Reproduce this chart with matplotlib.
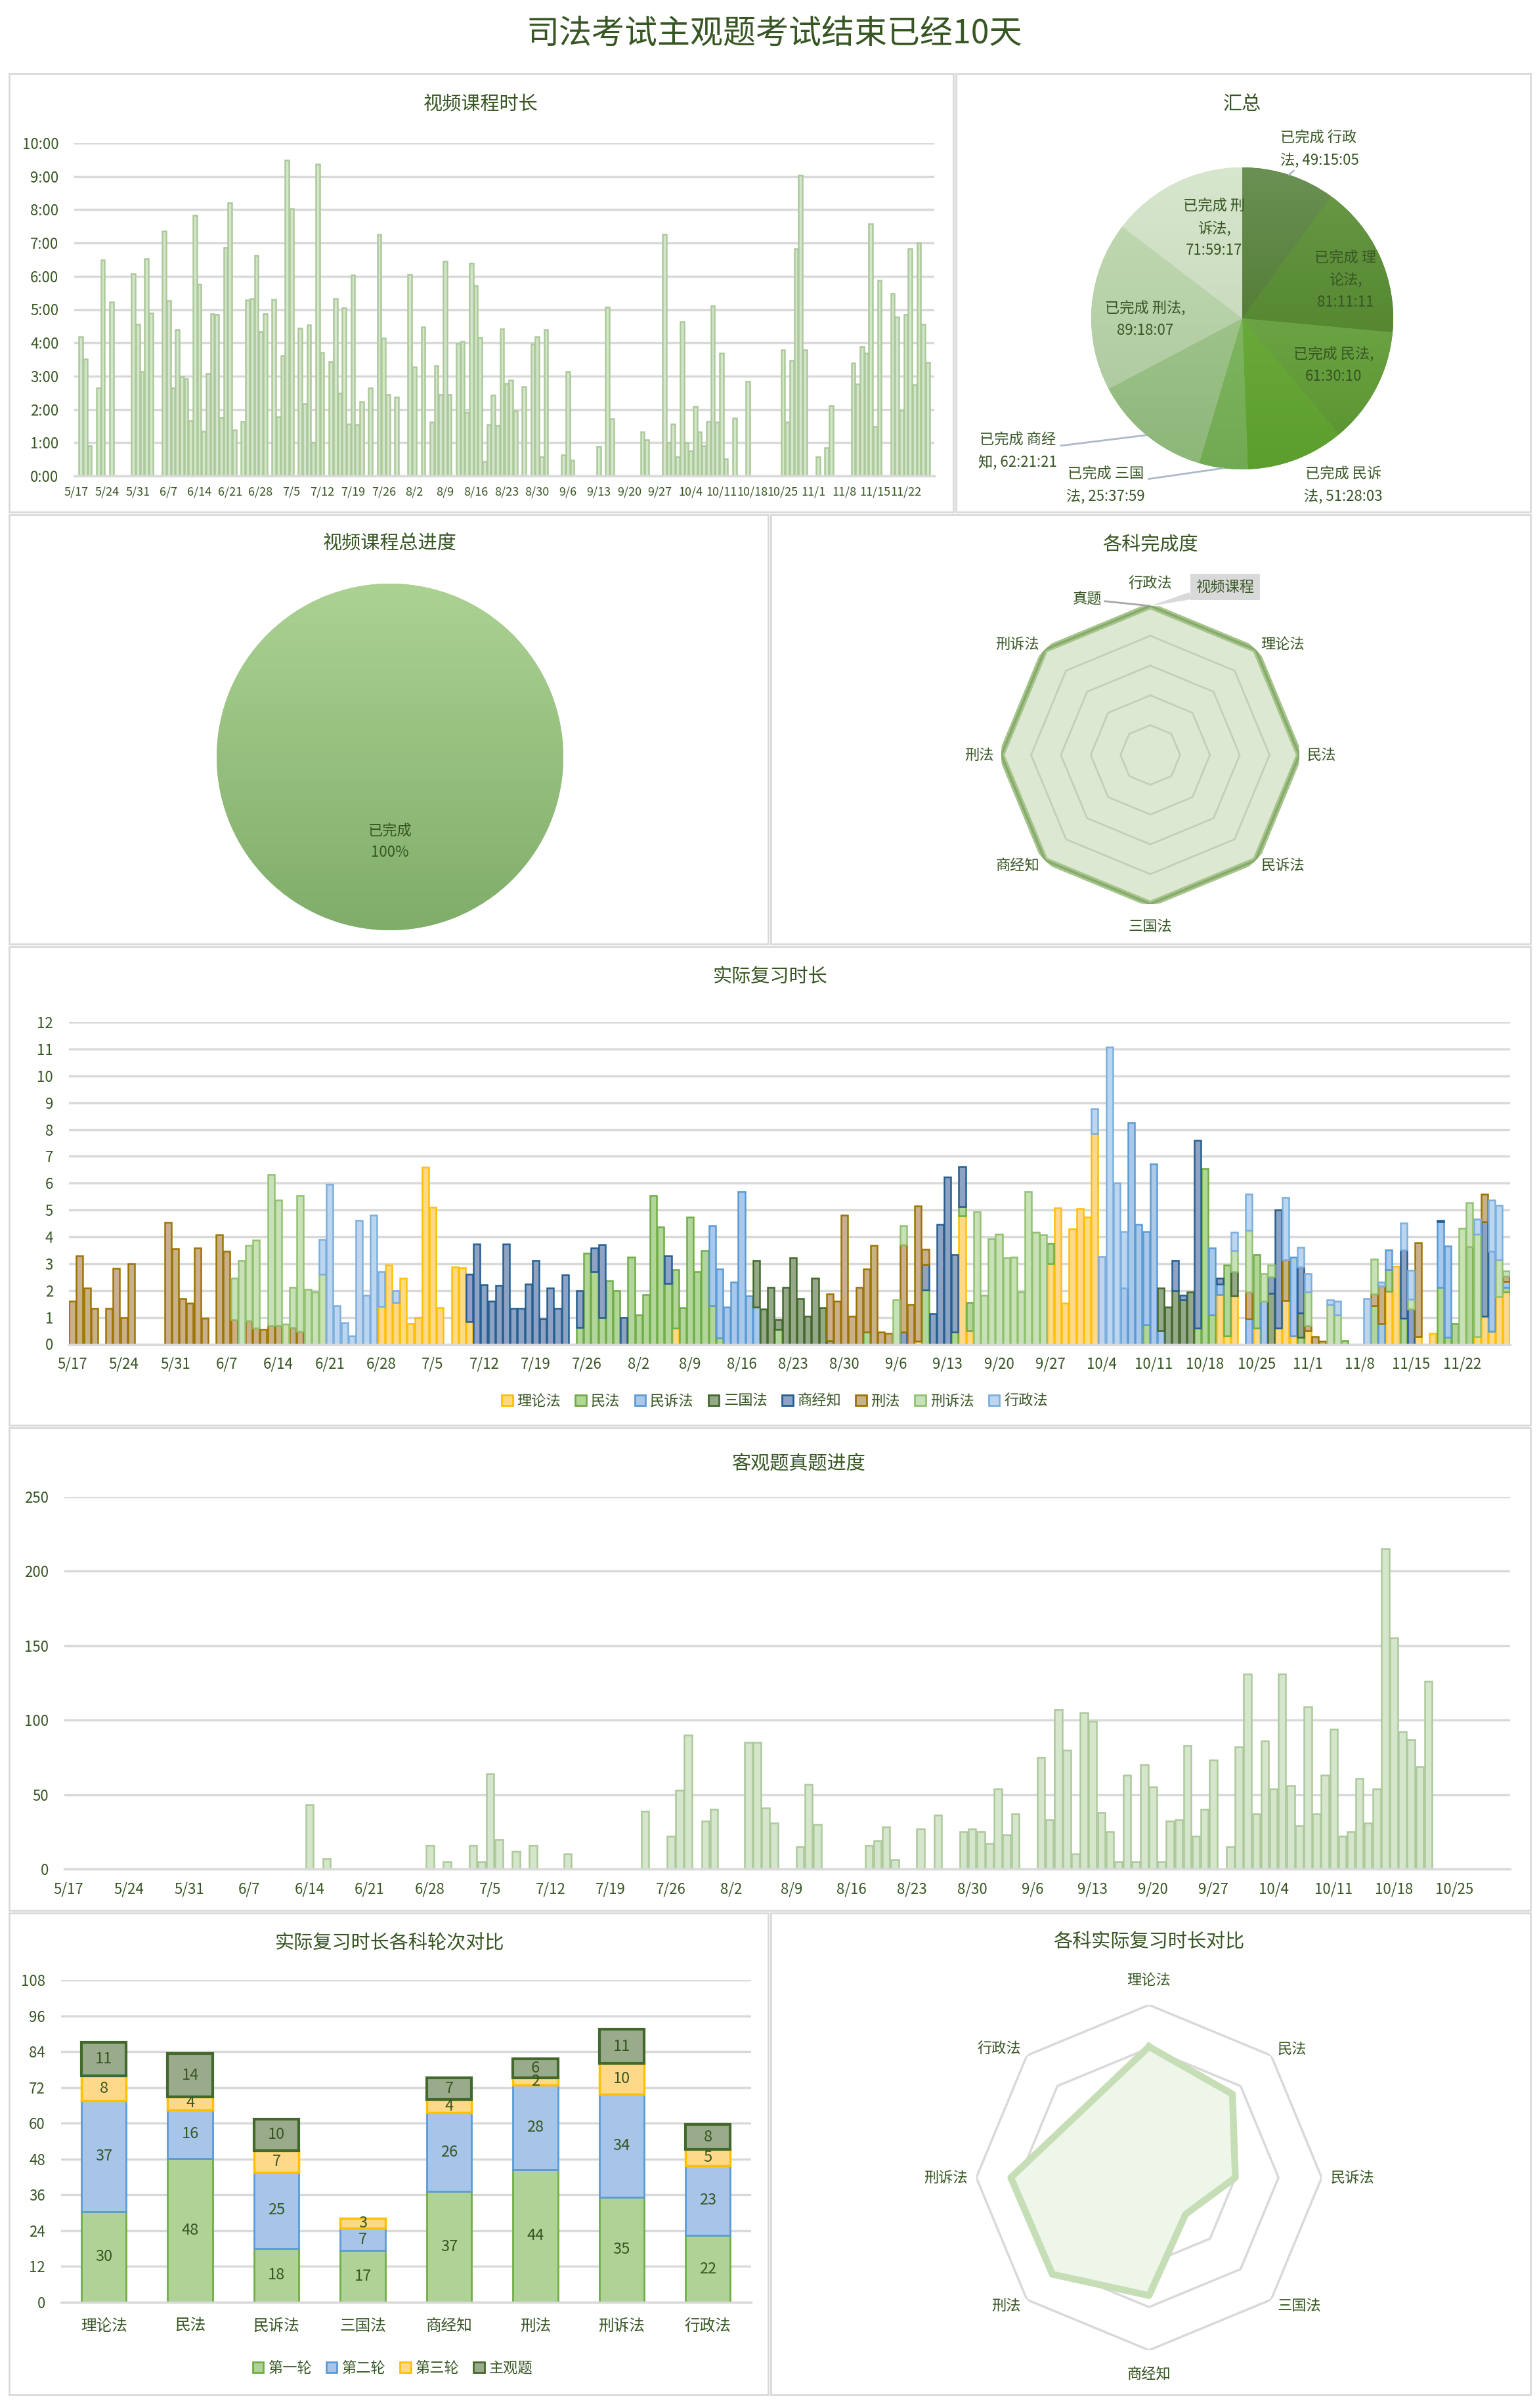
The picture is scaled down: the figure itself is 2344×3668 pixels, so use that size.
import numpy as np
import pandas as pd
import matplotlib
matplotlib.use('Agg')
import matplotlib.pyplot as plt
from matplotlib.patches import Rectangle, Patch
from matplotlib.colors import LinearSegmentedColormap

plt.rcParams['font.family'] = ['Noto Sans CJK SC', 'DejaVu Sans']

W, H = 2344, 3668
TEXT = '#375623'
GRID = '#d9d9d9'

# ---------------- data ----------------
START = '2021-05-17'
N_DAYS = 196          # 5/17 .. 11/28
N_DAYS_EXAM = 168     # 5/17 .. 10/31

# 视频课程时长, hours per day (key = days after 5/17)
video_hours = {
    1: 4.18, 2: 3.51, 3: 0.9, 5: 2.64, 6: 6.49, 8: 5.22, 13: 6.08, 14: 4.56, 15: 3.13,
    16: 6.53, 17: 4.9, 20: 7.36, 21: 5.27, 22: 2.64, 23: 4.39, 24: 2.97, 25: 2.92, 26: 1.65,
    27: 7.84, 28: 5.76, 29: 1.34, 30: 3.08, 31: 4.88, 32: 4.85, 33: 1.75, 34: 6.87, 35: 8.2,
    36: 1.38, 38: 1.64, 39: 5.29, 40: 5.33, 41: 6.63, 42: 4.33, 43: 4.88, 45: 5.3, 46: 1.78,
    47: 3.6, 48: 9.48, 49: 8.03, 51: 4.43, 52: 2.17, 53: 4.54, 54: 1.01, 55: 9.36, 56: 3.71,
    58: 3.43, 59: 5.33, 60: 2.48, 61: 5.05, 62: 1.55, 63: 6.04, 64: 1.53, 65: 2.23, 67: 2.64,
    69: 7.26, 70: 4.14, 71: 2.44, 73: 2.36, 76: 6.05, 77: 3.27, 79: 4.48, 81: 1.61, 82: 3.31,
    83: 2.44, 84: 6.44, 85: 2.44, 87: 3.98, 88: 4.04, 89: 1.91, 90: 6.4, 91: 5.72, 92: 4.16,
    93: 0.44, 94: 1.54, 95: 2.42, 96: 1.52, 97: 4.42, 98: 2.79, 99: 2.87, 100: 1.95, 102: 2.69,
    104: 3.96, 105: 4.18, 106: 0.57, 107: 4.39, 111: 0.63, 112: 3.13, 113: 0.48, 119: 0.89,
    121: 5.07, 122: 1.72, 129: 1.32, 130: 1.08, 134: 7.26, 135: 1.01, 136: 1.55, 137: 0.58,
    138: 4.63, 139: 1.01, 140: 0.74, 141: 2.1, 142: 1.32, 143: 0.9, 144: 1.64, 145: 5.1,
    146: 1.61, 147: 3.68, 148: 0.51, 150: 1.74, 153: 2.85, 161: 3.78, 162: 1.61, 163: 3.47,
    164: 6.82, 165: 9.04, 166: 3.78, 169: 0.58, 171: 0.84, 172: 2.12, 177: 3.39, 178: 2.77,
    179: 3.88, 180: 3.68, 181: 7.58, 182: 1.47, 183: 5.87, 186: 5.48, 187: 4.78, 188: 1.98,
    189: 4.85, 190: 6.83, 191: 2.75, 192: 7.0, 193: 4.55, 194: 3.41,
}

# 汇总
summary_subjects = ['行政法', '理论法', '民法', '民诉法', '三国法', '商经知', '刑法', '刑诉法']
summary_times = ['49:15:05', '81:11:11', '61:30:10', '51:28:03', '25:37:59', '62:21:21', '89:18:07', '71:59:17']

# 视频课程总进度
progress_done = 100

# 各科完成度
radar_subjects = ['行政法', '理论法', '民法', '民诉法', '三国法', '商经知', '刑法', '刑诉法']
radar_video = [1.0, 1.0, 1.0, 1.0, 1.0, 1.0, 1.0, 1.0]
radar_exam = [1.0, 1.0, 1.0, 1.0, 1.0, 1.0, 1.0, 1.0]

# 实际复习时长 (hours per day per subject)
review_subjects = ['理论法', '民法', '民诉法', '三国法', '商经知', '刑法', '刑诉法', '行政法']
review_ll = {42: 1.4, 43: 2.96, 44: 1.56, 45: 2.45, 46: 0.76, 47: 0.99, 48: 6.59, 49: 5.1, 50: 1.37,
             52: 2.88, 53: 2.85, 54: 0.85, 82: 0.6, 115: 0.1, 121: 4.79, 122: 0.5, 133: 3.0, 134: 5.07,
             135: 1.54, 136: 4.3, 137: 5.04, 138: 4.73, 139: 7.83, 156: 1.85, 157: 0.3, 158: 1.8,
             161: 0.6, 164: 0.6, 165: 1.62, 166: 0.3, 168: 0.5, 179: 1.96, 180: 2.9, 183: 0.28,
             185: 0.4, 191: 0.28, 192: 1.05, 193: 0.47, 194: 1.77, 195: 1.94}
review_mf = {69: 0.63, 70: 3.38, 71: 2.7, 72: 1.0, 73: 2.36, 74: 1.99, 76: 3.25, 77: 1.08, 78: 1.85,
             79: 5.53, 80: 4.36, 81: 2.26, 82: 2.17, 83: 1.37, 84: 4.73, 85: 2.7, 86: 3.48, 87: 1.42,
             88: 0.23, 96: 0.55, 108: 0.45, 116: 2.02, 120: 0.45, 121: 0.34, 122: 1.05, 133: 0.76,
             146: 0.72, 153: 0.6, 154: 6.55, 155: 1.08, 157: 2.66, 161: 2.73, 167: 0.25, 173: 0.14,
             177: 1.42, 179: 0.81, 181: 0.97, 186: 2.11, 187: 0.25, 188: 0.76, 190: 3.64, 195: 0.17}
review_ms = {87: 2.99, 88: 2.56, 89: 1.39, 90: 2.31, 91: 5.7, 92: 1.8, 93: 1.39, 143: 2.1, 144: 8.26,
             145: 4.47, 146: 3.47, 147: 6.72, 148: 0.5, 155: 2.51, 156: 0.4, 160: 0.95, 162: 1.6,
             166: 2.93, 178: 0.78, 179: 0.74, 186: 2.45, 187: 3.4, 193: 3.0, 195: 0.23}
review_sg = {93: 1.74, 94: 1.31, 95: 2.11, 96: 0.36, 97: 2.11, 98: 3.21, 99: 1.71, 100: 1.03, 101: 2.45,
             102: 1.37, 103: 0.14, 148: 1.6, 149: 1.39, 150: 2.0, 151: 1.65, 152: 1.94, 158: 0.9,
             163: 1.9, 167: 0.9}
review_sj = {54: 1.75, 55: 3.73, 56: 2.22, 57: 1.6, 58: 2.19, 59: 3.73, 60: 1.33, 61: 1.33, 62: 2.24,
             63: 3.11, 64: 0.95, 65: 2.09, 66: 1.33, 67: 2.59, 69: 1.36, 71: 0.89, 72: 2.7, 75: 0.99,
             81: 1.02, 113: 0.45, 116: 0.95, 117: 1.14, 118: 4.47, 119: 6.23, 120: 2.88, 121: 1.48,
             150: 1.11, 151: 0.17, 153: 7.0, 156: 0.22, 163: 0.6, 164: 4.4, 167: 1.72, 181: 2.54,
             182: 1.31, 186: 0.05, 192: 3.51}
review_xf = {0: 1.6, 1: 3.28, 2: 2.09, 3: 1.34, 5: 1.33, 6: 2.83, 7: 1.0, 8: 2.99, 13: 4.54, 14: 3.56,
             15: 1.7, 16: 1.54, 17: 3.59, 18: 0.97, 20: 4.08, 21: 3.46, 22: 0.91, 24: 0.87, 25: 0.6,
             26: 0.55, 27: 0.7, 28: 0.7, 30: 0.62, 31: 0.47, 103: 1.74, 104: 1.6, 105: 4.81, 106: 1.05,
             107: 2.11, 108: 2.34, 109: 3.67, 110: 0.46, 111: 0.4, 113: 3.25, 114: 1.48, 115: 5.06,
             116: 0.57, 160: 1.0, 165: 1.52, 168: 0.2, 169: 0.28, 170: 0.1, 177: 0.46, 178: 1.39,
             183: 3.5, 192: 1.03, 195: 0.19}
review_xs = {22: 1.56, 23: 3.13, 24: 2.81, 25: 3.27, 27: 5.62, 28: 4.68, 29: 0.74, 30: 1.49, 31: 5.06,
             32: 2.05, 33: 1.94, 34: 2.6, 112: 1.65, 113: 0.71, 123: 4.92, 124: 1.82, 125: 3.93,
             126: 4.1, 127: 3.21, 128: 3.23, 129: 1.94, 130: 5.7, 131: 4.16, 132: 4.07, 158: 0.78,
             160: 2.3, 162: 1.02, 163: 0.44, 168: 1.25, 171: 1.48, 172: 1.08, 177: 1.29, 182: 0.36,
             189: 4.31, 190: 1.62, 191: 3.82, 194: 1.37, 195: 0.2}
review_xz = {34: 1.3, 35: 5.95, 36: 1.42, 37: 0.8, 38: 0.31, 39: 4.62, 40: 1.82, 41: 4.81, 42: 1.3,
             44: 0.43, 139: 0.94, 140: 3.27, 141: 11.08, 142: 6.0, 143: 2.09, 158: 0.68, 160: 1.35,
             165: 2.34, 167: 0.75, 168: 0.67, 171: 0.17, 172: 0.52, 176: 1.71, 178: 0.14, 181: 1.01,
             182: 1.08, 191: 0.57, 193: 1.9, 194: 2.03}

# 客观题真题进度 (questions per day)
exam_counts = {
    28: 43, 30: 7, 42: 16, 44: 5, 47: 16, 48: 5, 49: 64, 50: 20, 52: 12, 54: 16, 58: 10,
    67: 39, 70: 22, 71: 53, 72: 90, 74: 32, 75: 40, 79: 85, 80: 85, 81: 41, 82: 31, 85: 15,
    86: 57, 87: 30, 93: 16, 94: 19, 95: 28, 96: 6, 99: 27, 101: 36, 104: 25, 105: 27, 106: 25,
    107: 17, 108: 54, 109: 23, 110: 37, 113: 75, 114: 33, 115: 107, 116: 80, 117: 10, 118: 105,
    119: 99, 120: 38, 121: 25, 122: 5, 123: 63, 124: 5, 125: 70, 126: 55, 127: 5, 128: 32,
    129: 33, 130: 83, 131: 22, 132: 40, 133: 73, 135: 15, 136: 82, 137: 131, 138: 37, 139: 86,
    140: 54, 141: 131, 142: 56, 143: 29, 144: 109, 145: 37, 146: 63, 147: 94, 148: 22, 149: 25,
    150: 61, 151: 31, 152: 54, 153: 215, 154: 155, 155: 92, 156: 87, 157: 69, 158: 126,
}

# 实际复习时长各科轮次对比
round_subjects = ['理论法', '民法', '民诉法', '三国法', '商经知', '刑法', '刑诉法', '行政法']
round_names = ['第一轮', '第二轮', '第三轮', '主观题']
round_1 = [30.4, 48.2, 18.1, 17.4, 37.2, 44.5, 35.3, 22.4]
round_2 = [37.2, 16.3, 25.4, 7.4, 26.3, 28.4, 34.4, 23.4]
round_3 = [8.2, 4.4, 7.4, 3.4, 4.4, 2.4, 10.3, 5.4]
round_sub = [11.4, 14.4, 10.4, 0.0, 7.4, 6.4, 11.4, 8.4]

# 各科实际复习时长对比
compare_subjects = ['理论法', '民法', '民诉法', '三国法', '商经知', '刑法', '刑诉法', '行政法']
compare_hours = [91, 82, 60, 36, 82, 95, 96, 66]


# ---------------- helpers ----------------
def box(x0, y0, x1, y1):
    return [x0 / W, 1 - y1 / H, (x1 - x0) / W, (y1 - y0) / H]


def fxy(x, y):
    return x / W, 1 - y / H


def hms_hours(s):
    h, m, sec = (int(p) for p in s.split(':'))
    return h + m / 60 + sec / 3600


def style_bar_axes(ax, ylabel_pad, xlabel_pad, xsize, ysize):
    ax.set_facecolor('none')
    for s in ['top', 'right', 'left']:
        ax.spines[s].set_visible(False)
    ax.spines['bottom'].set_color(GRID)
    ax.spines['bottom'].set_linewidth(2.5)
    ax.grid(axis='y', color=GRID, lw=2.5)
    ax.set_axisbelow(True)
    ax.tick_params(axis='both', length=0, colors=TEXT)
    ax.tick_params(axis='y', pad=ylabel_pad, labelsize=ysize)
    ax.tick_params(axis='x', pad=xlabel_pad, labelsize=xsize)


def gradient_fill(ax, patch, c_top, c_bot, extent):
    cmap = LinearSegmentedColormap.from_list('g', [c_top, c_bot])
    grad = np.linspace(0, 1, 256)[:, None]
    im = ax.imshow(grad, cmap=cmap, extent=extent, aspect='auto', origin='upper', zorder=2)
    im.set_clip_path(patch)


def polar_frame(ax):
    ax.set_theta_offset(np.pi / 2)
    ax.set_theta_direction(-1)
    ax.axis('off')


fig = plt.figure(figsize=(W / 100, H / 100), dpi=100)
fig.patch.set_facecolor('white')

# panel borders
panels = [(14, 112, 1452, 780), (1456, 112, 2331, 780), (14, 784, 1170, 1438), (1174, 784, 2331, 1438),
          (14, 1442, 2331, 2171), (14, 2175, 2331, 2910), (14, 2914, 1170, 3648), (1174, 2914, 2331, 3648)]
for x0, y0, x1, y1 in panels:
    fig.add_artist(Rectangle(fxy(x0, y1), (x1 - x0) / W, (y1 - y0) / H, transform=fig.transFigure,
                             fill=False, ec=GRID, lw=2))

fig.text(*fxy(1179, 52), '司法考试主观题考试结束已经10天', ha='center', va='center', fontsize=36, color=TEXT)

dates = pd.date_range(START, periods=N_DAYS)
week_labels = [f'{d.month}/{d.day}' for d in dates[::7]]
days = np.arange(N_DAYS)

# ---------------- 1. 视频课程时长 ----------------
fig.text(*fxy(732, 159), '视频课程时长', ha='center', va='center', fontsize=21, color=TEXT)
ax1 = fig.add_axes(box(113, 218, 1423, 725))
vx = np.array(sorted(video_hours))
ax1.bar(vx, [video_hours[k] for k in vx], width=0.85, color='#d6e6cc', edgecolor='#acc99b', lw=1.8)
ax1.set_xlim(-0.5, N_DAYS - 0.5)
ax1.set_ylim(0, 10)
ax1.set_yticks(range(11))
ax1.set_yticklabels([f'{h}:00' for h in range(11)])
ax1.set_xticks(days[::7])
ax1.set_xticklabels(week_labels)
style_bar_axes(ax1, 17, 11, 13, 16)

# ---------------- 2. 汇总 pie ----------------
fig.text(*fxy(1892, 159), '汇总', ha='center', va='center', fontsize=21, color=TEXT)
cx2, cy2, r2 = 1892, 485, 230
ax2 = fig.add_axes(box(cx2 - r2, cy2 - r2, cx2 + r2, cy2 + r2))
sum_hours = [hms_hours(t) for t in summary_times]
slice_colors = [('#6b9054', '#3f6c1c'), ('#6a9b48', '#44781e'), ('#80b25d', '#58932c'),
                ('#77b546', '#5c9e2e'), ('#8fc070', '#70aa52'), ('#aed09a', '#8db679'),
                ('#c5dcb6', '#a8c599'), ('#d7e7ce', '#bdd0b0')]
wedges, _ = ax2.pie(sum_hours, startangle=90, counterclock=False,
                    colors=[c[1] for c in slice_colors], wedgeprops=dict(lw=0))
for w, (ct, cb) in zip(wedges, slice_colors):
    gradient_fill(ax2, w, ct, cb, (-1, 1, -1, 1))
ax2.set_xlim(-1, 1)
ax2.set_ylim(-1, 1)
ax2.axis('off')

label_breaks = [2, 1, None, 2, 2, 2, None, 1]
label_pos = [(1950, 227), (2049, 427), (2031, 557), (2046, 739), (1684, 739), (1550, 687), (1744, 487), (1849, 348)]
label_ha = ['left', 'center', 'center', 'center', 'center', 'center', 'center', 'center']
leader = [True, False, False, False, True, True, False, False]
total = sum(sum_hours)
cum = 0
for i, (name, t) in enumerate(zip(summary_subjects, summary_times)):
    k = label_breaks[i]
    if k is None:
        txt = f'已完成 {name},\n{t}'
    elif k == 1:
        txt = f'已完成 {name[:k]}\n{name[k:]},\n{t}'
    else:
        txt = f'已完成 {name[:k]}\n{name[k:]}, {t}'
    mid = 2 * np.pi * (cum + sum_hours[i] / 2) / total
    cum += sum_hours[i]
    px, py = label_pos[i]
    tx, ty = (px - cx2) / r2, (cy2 - py) / r2
    if leader[i]:
        ax2.annotate(txt, xy=(np.sin(mid), np.cos(mid)), xytext=(tx, ty), ha=label_ha[i], va='center',
                     fontsize=16, color=TEXT, linespacing=1.6, zorder=5, annotation_clip=False,
                     arrowprops=dict(arrowstyle='-', color='#adb9ca', lw=2, shrinkA=2, shrinkB=0))
    else:
        ax2.text(tx, ty, txt, ha=label_ha[i], va='center', fontsize=16, color=TEXT,
                 linespacing=1.6, zorder=5, multialignment='center')

# ---------------- 3. 视频课程总进度 ----------------
fig.text(*fxy(594, 828), '视频课程总进度', ha='center', va='center', fontsize=21, color=TEXT)
cx3, cy3, r3 = 594, 1153, 264
ax3 = fig.add_axes(box(cx3 - r3, cy3 - r3, cx3 + r3, cy3 + r3))
w3, _ = ax3.pie([progress_done], startangle=90, colors=['#94bf7c'], wedgeprops=dict(lw=0))
gradient_fill(ax3, w3[0], '#acd293', '#80ad6a', (-1, 1, -1, 1))
ax3.set_xlim(-1, 1)
ax3.set_ylim(-1, 1)
ax3.axis('off')
ax3.text(0, -0.49, f'已完成\n{progress_done}%', ha='center', va='center', fontsize=16,
         color=TEXT, linespacing=1.5, zorder=5)

# ---------------- 4. 各科完成度 radar ----------------
fig.text(*fxy(1752, 830), '各科完成度', ha='center', va='center', fontsize=21, color=TEXT)
cx4, cy4, r4 = 1752, 1150, 227
ax4 = fig.add_axes(box(cx4 - r4, cy4 - r4, cx4 + r4, cy4 + r4), projection='polar')
polar_frame(ax4)
ax4.set_ylim(0, 1)
th = np.linspace(0, 2 * np.pi, len(radar_subjects), endpoint=False)
thc = np.append(th, th[0])
ax4.fill(thc, np.append(radar_video, radar_video[0]), color='#dde8d3', zorder=1)
for r in [0.2, 0.4, 0.6, 0.8]:
    ax4.plot(thc, [r] * len(thc), color='#c3cfb9', lw=2, zorder=2)
ax4.plot(thc, np.append(radar_video, radar_video[0]), color='#a6c48d', lw=7, zorder=3)
ax4.plot(thc, np.append(radar_exam, radar_exam[0]), color='#86aa68', lw=2.5, zorder=4)
for t, name in zip(th, radar_subjects):
    s, c = np.sin(t), np.cos(t)
    if abs(s) < 0.01:
        ax4.text(t, 1.15, name, ha='center', va='center', fontsize=16, color=TEXT)
    else:
        ax4.text(t, 1.05, name, ha='left' if s > 0 else 'right', va='center', fontsize=16, color=TEXT)
ax4.annotate('真题', xy=(0, 1.0), xytext=(1656, H - 913), textcoords='figure pixels', ha='center',
             va='center', fontsize=16, color=TEXT, annotation_clip=False,
             arrowprops=dict(arrowstyle='-', color='#a6a6a6', lw=2, shrinkA=1, shrinkB=0))
ax4.annotate('视频课程', xy=(0, 1.0), xytext=(1866, H - 894), textcoords='figure pixels', ha='center',
             va='center', fontsize=16, color=TEXT, annotation_clip=False,
             bbox=dict(boxstyle='square,pad=0.4', fc='#d9d9d9', ec='none'),
             arrowprops=dict(arrowstyle='wedge,tail_width=0.5', fc='#d9d9d9', ec='none', shrinkA=0, shrinkB=0))

# ---------------- 5. 实际复习时长 ----------------
fig.text(*fxy(1173, 1488), '实际复习时长', ha='center', va='center', fontsize=21, color=TEXT)
ax5 = fig.add_axes(box(104.6, 1557, 2300, 2047.5))
review_data = [review_ll, review_mf, review_ms, review_sg, review_sj, review_xf, review_xs, review_xz]
review_fill = ['#ffd98a', '#b2d69a', '#a9c8ea', '#95a888', '#8ea3c4', '#c8b08b', '#c8e1b8', '#bcd6ef']
review_edge = ['#ffc000', '#70ad47', '#5b9bd5', '#43682b', '#255e91', '#9e7400', '#92c270', '#7cafdd']
bottom = np.zeros(N_DAYS)
for data, fc, ec in zip(review_data, review_fill, review_edge):
    v = np.array([data.get(i, 0.0) for i in days])
    m = v > 0
    ax5.bar(days[m], v[m], width=0.9, bottom=bottom[m], color=fc, edgecolor=ec, lw=1.8)
    bottom += v
ax5.set_xlim(-0.5, N_DAYS - 0.5)
ax5.set_ylim(0, 12)
ax5.set_yticks(range(13))
ax5.set_xticks(days[::7])
ax5.set_xticklabels(week_labels)
style_bar_axes(ax5, 17, 14, 16, 16)
handles = [Patch(facecolor=fc, edgecolor=ec, lw=2) for fc, ec in zip(review_fill, review_edge)]
fig.legend(handles, review_subjects, loc='center', bbox_to_anchor=fxy(1180, 2134), ncol=8,
           frameon=False, fontsize=16, labelcolor=TEXT, handlelength=0.75, handleheight=0.75,
           handletextpad=0.3, columnspacing=1.0)

# ---------------- 6. 客观题真题进度 ----------------
fig.text(*fxy(1217, 2229), '客观题真题进度', ha='center', va='center', fontsize=21, color=TEXT)
ax6 = fig.add_axes(box(97.8, 2280, 2300, 2847))
ex = np.array(sorted(exam_counts))
ax6.bar(ex, [exam_counts[k] for k in ex], width=0.88, color='#d6e6cc', edgecolor='#acc99b', lw=1.8)
ax6.set_xlim(-0.5, N_DAYS_EXAM - 0.5)
ax6.set_ylim(0, 250)
ax6.set_yticks(range(0, 251, 50))
exam_days = np.arange(N_DAYS_EXAM)
ax6.set_xticks(exam_days[::7])
ax6.set_xticklabels([f'{d.month}/{d.day}' for d in pd.date_range(START, periods=N_DAYS_EXAM)[::7]])
style_bar_axes(ax6, 17, 14, 16, 16)

# ---------------- 7. 实际复习时长各科轮次对比 ----------------
fig.text(*fxy(594, 2960), '实际复习时长各科轮次对比', ha='center', va='center', fontsize=21, color=TEXT)
ax7 = fig.add_axes(box(92.5, 3016, 1144, 3507))
rounds = [round_1, round_2, round_3, round_sub]
round_fill = ['#afd396', '#a7c5e8', '#ffd98a', '#9aab8c']
round_edge = ['#70ad47', '#5b9bd5', '#ffc000', '#43682b']
round_lw = [2, 2, 2.5, 3]
cx = np.arange(len(round_subjects))
bot = np.zeros(len(round_subjects))
for vals, fc, ec, lw in zip(rounds, round_fill, round_edge, round_lw):
    v = np.array(vals)
    m = v > 0
    ax7.bar(cx[m], v[m], width=0.52, bottom=bot[m], color=fc, edgecolor=ec, lw=lw)
    for xi, vi, bi in zip(cx[m], v[m], bot[m]):
        ax7.text(xi, bi + vi / 2, f'{vi:.0f}', ha='center', va='center', fontsize=17, color=TEXT)
    bot += v
ax7.set_xlim(-0.5, len(round_subjects) - 0.5)
ax7.set_ylim(0, 108)
ax7.set_yticks(range(0, 109, 12))
ax7.set_xticks(cx)
ax7.set_xticklabels(round_subjects)
style_bar_axes(ax7, 17, 18, 17, 16)
handles7 = [Patch(facecolor=fc, edgecolor=ec, lw=2) for fc, ec in zip(round_fill, round_edge)]
fig.legend(handles7, round_names, loc='center', bbox_to_anchor=fxy(598, 3607), ncol=4,
           frameon=False, fontsize=16, labelcolor=TEXT, handlelength=0.75, handleheight=0.75,
           handletextpad=0.3, columnspacing=1.0)

# ---------------- 8. 各科实际复习时长对比 radar ----------------
fig.text(*fxy(1750, 2958), '各科实际复习时长对比', ha='center', va='center', fontsize=21, color=TEXT)
cx8, cy8, r8 = 1750, 3317, 263
ax8 = fig.add_axes(box(cx8 - r8, cy8 - r8, cx8 + r8, cy8 + r8), projection='polar')
polar_frame(ax8)
ax8.set_ylim(0, 120)
th8 = np.linspace(0, 2 * np.pi, len(compare_subjects), endpoint=False)
th8c = np.append(th8, th8[0])
for r in [30, 60, 90, 120]:
    ax8.plot(th8c, [r] * len(th8c), color='#d9d9d9', lw=2.5, zorder=1)
vals8 = np.append(compare_hours, compare_hours[0])
ax8.fill(th8c, vals8, color='#eef6ea', zorder=2)
ax8.plot(th8c, vals8, color='#c6deb6', lw=7.5, zorder=3, solid_joinstyle='round')
for t, name in zip(th8, compare_subjects):
    s = np.sin(t)
    if abs(s) < 0.01:
        ax8.text(t, 137, name, ha='center', va='center', fontsize=16, color=TEXT)
    else:
        ax8.text(t, 126, name, ha='left' if s > 0 else 'right', va='center', fontsize=16, color=TEXT)

fig.savefig('out.png', dpi=100, facecolor='white')
